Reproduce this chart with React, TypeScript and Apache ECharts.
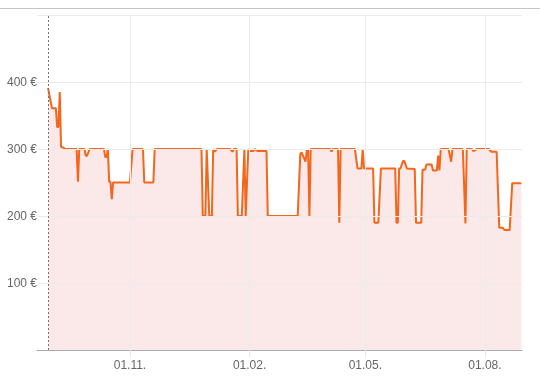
import React, { useEffect, useRef } from "react";
import * as echarts from "echarts";

const dates = [
  "2022-08-30", "2022-09-02", "2022-09-05", "2022-09-06", "2022-09-07", "2022-09-08", "2022-09-09",
  "2022-09-11", "2022-09-12", "2022-09-21", "2022-09-22", "2022-09-23", "2022-09-27", "2022-09-28",
  "2022-09-29", "2022-10-01", "2022-10-12", "2022-10-13", "2022-10-14", "2022-10-15", "2022-10-16",
  "2022-10-17", "2022-10-18", "2022-10-19", "2022-11-01", "2022-11-03", "2022-11-11", "2022-11-12",
  "2022-11-19", "2022-11-20", "2022-12-26", "2022-12-27", "2022-12-29", "2022-12-30", "2023-01-01",
  "2023-01-03", "2023-01-04", "2023-01-05", "2023-01-07", "2023-01-17", "2023-01-19", "2023-01-20",
  "2023-01-22", "2023-01-23", "2023-01-26", "2023-01-28", "2023-01-29", "2023-01-31", "2023-02-01",
  "2023-02-04", "2023-02-05", "2023-02-07", "2023-02-14", "2023-02-15", "2023-03-10", "2023-03-12",
  "2023-03-13", "2023-03-16", "2023-03-17", "2023-03-18", "2023-03-19", "2023-03-20", "2023-04-04",
  "2023-04-05", "2023-04-06", "2023-04-10", "2023-04-11", "2023-04-12", "2023-04-23", "2023-04-25",
  "2023-04-28", "2023-04-29", "2023-04-30", "2023-05-07", "2023-05-08", "2023-05-11", "2023-05-13",
  "2023-05-24", "2023-05-25", "2023-05-26", "2023-05-27", "2023-05-28", "2023-05-30", "2023-05-31",
  "2023-06-02", "2023-06-08", "2023-06-09", "2023-06-13", "2023-06-14", "2023-06-16", "2023-06-17",
  "2023-06-21", "2023-06-22", "2023-06-25", "2023-06-26", "2023-06-27", "2023-06-28", "2023-07-04",
  "2023-07-06", "2023-07-07", "2023-07-15", "2023-07-17", "2023-07-18", "2023-07-22", "2023-07-23",
  "2023-07-26", "2023-08-04", "2023-08-06", "2023-08-10", "2023-08-12", "2023-08-15", "2023-08-16",
  "2023-08-20", "2023-08-22", "2023-08-29",
];

const prices = [
  391, 361, 361, 333, 333, 385, 303,
  302, 300, 300, 251, 300, 300, 290,
  290, 300, 300, 288, 288, 300, 251,
  251, 225, 250, 250, 300, 300, 250,
  250, 300, 300, 200, 200, 300, 200,
  200, 300, 296, 300, 300, 296, 300,
  300, 200, 200, 300, 200, 300, 297,
  297, 300, 297, 297, 200, 200, 293,
  295, 281, 298, 298, 200, 300, 300,
  296, 300, 300, 190, 300, 300, 271,
  271, 300, 271, 271, 190, 190, 271,
  271, 190, 190, 271, 271, 282, 282,
  271, 270, 190, 190, 269, 269, 277,
  277, 268, 268, 290, 268, 300, 300,
  281, 300, 300, 189, 300, 300, 297,
  300, 300, 296, 296, 183, 182, 179,
  179, 249, 249,
];

const xTickDates = ["2022-11-01", "2023-02-01", "2023-05-01", "2023-08-01"];
const yTicks = [100, 200, 300, 400];
const yGridValues = [100, 200, 300, 400, 500];
const xRange = ["2022-08-21T12:00:00", "2023-08-29T12:00:00"];
const yRange = [0, 500];

const ts = (s: string) => {
  const [d, t] = s.split("T");
  const [y, m, day] = d.split("-").map(Number);
  let h = 0;
  if (t) h = Number(t.split(":")[0]);
  return new Date(y, m - 1, day, h).getTime();
};

export default function App() {
  const ref = useRef<HTMLDivElement>(null);
  useEffect(() => {
    if (!ref.current) return;
    const chart = echarts.init(ref.current, null, { renderer: "svg" });
    const font = "Arial, 'Liberation Sans', sans-serif";
    const seriesData = dates.map((d, i) => [ts(d), prices[i]]);
    const tickVals = xTickDates.map(ts);
    const gridLine = () => ({ color: "#ebebeb", type: "solid", width: 1 });
    chart.setOption({
      animation: false,
      grid: { left: 37, right: 18, top: 15, bottom: 31, containLabel: false },
      graphic: [
        {
          type: "line",
          shape: { x1: 0, y1: 8.5, x2: 540, y2: 8.5 },
          style: { stroke: "#c4c4c4", lineWidth: 1 },
          silent: true,
        },
      ],
      xAxis: {
        type: "value",
        min: ts(xRange[0]),
        max: ts(xRange[1]),
        axisLine: { show: true, lineStyle: { color: "#aaaaaa", width: 1 } },
        axisTick: {
          show: true,
          length: 7,
          customValues: tickVals,
          lineStyle: { color: "#e6e6e6", width: 1 },
        },
        axisLabel: {
          customValues: tickVals,
          color: "#666666",
          fontSize: 12,
          fontFamily: font,
          margin: 9,
          formatter: (v: number) => {
            const d = new Date(v);
            const dd = String(d.getDate()).padStart(2, "0");
            const mm = String(d.getMonth() + 1).padStart(2, "0");
            return `${dd}.${mm}.`;
          },
        },
        splitLine: { show: false },
      },
      yAxis: {
        type: "value",
        min: yRange[0],
        max: yRange[1],
        interval: 100,
        axisLine: { show: false },
        axisTick: { show: false },
        axisLabel: {
          color: "#666666",
          fontSize: 12,
          fontFamily: font,
          margin: 0,
          formatter: (v: number) => (yTicks.includes(v) ? `${v} €` : ""),
        },
        splitLine: { show: false },
      },
      series: [
        {
          type: "line",
          data: seriesData,
          symbol: "none",
          z: 1,
          silent: true,
          lineStyle: { opacity: 0 },
          markLine: {
            silent: true,
            symbol: "none",
            label: { show: false },
            emphasis: { disabled: true },
            data: [
              ...yGridValues.map((v) => ({ yAxis: v, lineStyle: gridLine() })),
              ...tickVals.map((v) => ({ xAxis: v, lineStyle: gridLine() })),
            ],
          },
        },
        {
          type: "line",
          data: seriesData,
          symbol: "none",
          z: 2,
          lineStyle: { color: "#f4661b", width: 2, type: "solid" },
          itemStyle: { color: "#f4661b" },
          areaStyle: { color: "rgba(230,120,125,0.17)", opacity: 1 },
          markLine: {
            silent: true,
            symbol: "none",
            label: { show: false },
            emphasis: { disabled: true },
            lineStyle: { color: "#777777", type: [2, 2], width: 1 },
            data: [{ xAxis: ts(dates[0]) }],
          },
        },
      ],
    });
    return () => chart.dispose();
  }, []);
  return (
    <div
      ref={ref}
      style={{ position: "fixed", left: 0, top: 0, width: 540, height: 381 }}
    />
  );
}
